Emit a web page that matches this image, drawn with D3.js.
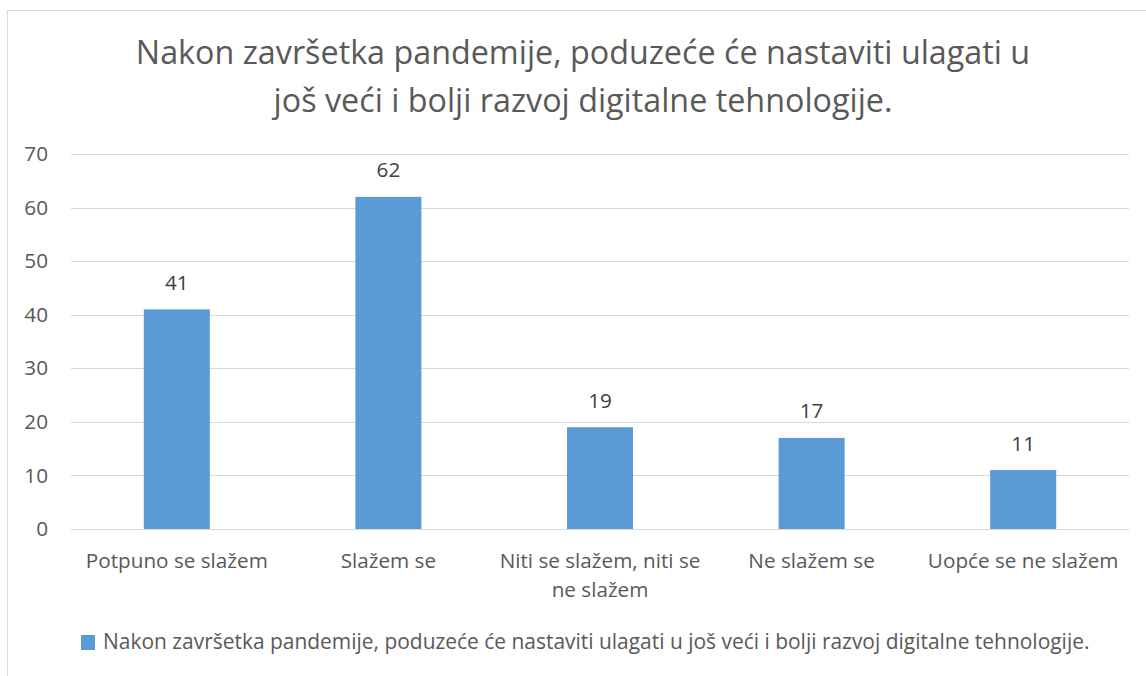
<!DOCTYPE html>
<html>
<head>
<meta charset="utf-8">
<script src="https://cdn.jsdelivr.net/npm/d3@7"></script>
<style>
  body { margin: 0; background: #fff; }
  text { font-family: "Open Sans", "Noto Sans", sans-serif; }
</style>
</head>
<body>
<svg id="chart" width="1146" height="676"></svg>
<script>
// chart data
var titleLines = ["Nakon završetka pandemije, poduzeće će nastaviti ulagati u",
                  "još veći i bolji razvoj digitalne tehnologije."];
var categories = ["Potpuno se slažem", "Slažem se", "Niti se slažem, niti se|ne slažem",
                  "Ne slažem se", "Uopće se ne slažem"];
var values = [41, 62, 19, 17, 11];
var yTicks = [0, 10, 20, 30, 40, 50, 60, 70];
var seriesName = "Nakon završetka pandemije, poduzeće će nastaviti ulagati u još veći i bolji razvoj digitalne tehnologije.";

var svg = d3.select("#chart");
var m = {left: 71, right: 1129, top: 154, bottom: 529};
var fs = "20.7px";

// outer frame (runs off the right / bottom of the shot)
svg.append("rect")
    .attr("x", 7.5).attr("y", 10.5)
    .attr("width", 1200).attr("height", 700)
    .attr("fill", "none").attr("stroke", "#d9d9d9").attr("stroke-width", 1);

// title
svg.append("g").selectAll("text")
    .data(titleLines)
    .join("text")
    .attr("x", 583)
    .attr("y", function (d, i) { return 64 + i * 48; })
    .attr("text-anchor", "middle")
    .attr("fill", "#595959")
    .style("font-size", "32.3px")
    .text(function (d) { return d; });

var x = d3.scaleBand().domain(categories).range([m.left, m.right]).padding(0);
var y = d3.scaleLinear().domain([0, 70]).range([m.bottom, m.top]);
var barW = x.bandwidth() * 0.312;

// gridlines
svg.append("g").selectAll("line")
    .data(yTicks)
    .join("line")
    .attr("x1", m.left).attr("x2", m.right)
    .attr("y1", function (d) { return Math.round(y(d)) + 0.5; })
    .attr("y2", function (d) { return Math.round(y(d)) + 0.5; })
    .attr("stroke", "#d9d9d9").attr("stroke-width", 1);

// y axis labels
var yAxis = d3.axisLeft(y).tickValues(yTicks).tickSize(0).tickPadding(0);
var gy = svg.append("g").attr("transform", "translate(48,0)").call(yAxis);
gy.select(".domain").remove();
gy.selectAll("text")
    .attr("fill", "#595959")
    .style("font-size", fs)
    .style("font-family", "'Open Sans', sans-serif");

// bars
svg.append("g").selectAll("rect")
    .data(values)
    .join("rect")
    .attr("x", function (d, i) { return x(categories[i]) + (x.bandwidth() - barW) / 2; })
    .attr("y", function (d) { return y(d); })
    .attr("width", barW)
    .attr("height", function (d) { return y(0) - y(d); })
    .attr("fill", "#5b9bd5");

// value labels
svg.append("g").selectAll("text")
    .data(values)
    .join("text")
    .attr("x", function (d, i) { return x(categories[i]) + x.bandwidth() / 2; })
    .attr("y", function (d) { return y(d) - 19.5; })
    .attr("text-anchor", "middle")
    .attr("fill", "#404040")
    .style("font-size", fs)
    .text(function (d) { return d; });

// category labels
var xl = svg.append("g").selectAll("text")
    .data(categories)
    .join("text")
    .attr("x", function (d) { return x(d) + x.bandwidth() / 2; })
    .attr("y", 568)
    .attr("text-anchor", "middle")
    .attr("fill", "#595959")
    .style("font-size", fs);
xl.each(function (d) {
    var parts = d.split("|");
    d3.select(this).selectAll("tspan")
        .data(parts)
        .join("tspan")
        .attr("x", x(d) + x.bandwidth() / 2)
        .attr("dy", function (p, i) { return i === 0 ? 0 : 28.7; })
        .text(function (p) { return p; });
});

// legend
svg.append("rect")
    .attr("x", 81).attr("y", 635)
    .attr("width", 14).attr("height", 15)
    .attr("fill", "#5b9bd5");
svg.append("text")
    .attr("x", 103).attr("y", 649)
    .attr("fill", "#595959")
    .style("font-size", "20.95px")
    .text(seriesName);
</script>
</body>
</html>
